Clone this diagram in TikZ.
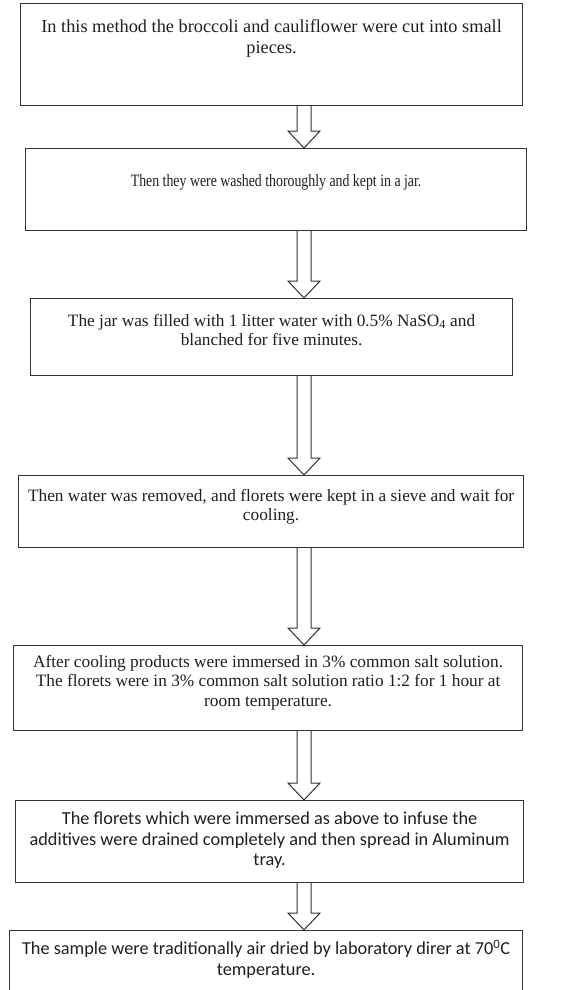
\documentclass[tikz,border=0pt]{standalone}
\usepackage{fontspec}
\usepackage{graphicx}
\setmainfont{Liberation Serif}
\newfontfamily\calfont{Carlito}
\usetikzlibrary{calc}
\newcommand\flowarrow[2]{\draw[barrow] let \p1=(#1.south), \p2=(#2.north) in
  (297pt,\y1) -- (297pt,\y2+17pt) -- (288pt,\y2+17pt) -- (304pt,\y2) --
  (320pt,\y2+17pt) -- (311pt,\y2+17pt) -- (311pt,\y1);}
\begin{document}
\begin{tikzpicture}[x=1pt,y=-1pt,
  box/.style={draw=black!80, line width=1.2pt, anchor=north west, inner sep=0},
  txt/.style={align=center, inner sep=0, anchor=north, text=black!88,
    font=\fontsize{17.3}{19.5}\selectfont},
  ctxt/.style={align=center, inner sep=0, anchor=north, text=black!88,
    font=\calfont\fontsize{18.3}{20.5}\selectfont},
  barrow/.style={draw=black!80, line width=1pt, fill=white, line join=miter}]
\useasboundingbox (0,0) rectangle (587,990);

\node[box, minimum width=502pt, minimum height=102pt] (b1) at (20,3) {};
\node[box, minimum width=501pt, minimum height=82pt] (b2) at (25,148) {};
\node[box, minimum width=482pt, minimum height=77pt] (b3) at (30,298) {};
\node[box, minimum width=505pt, minimum height=72pt] (b4) at (18,475) {};
\node[box, minimum width=509pt, minimum height=85pt] (b5) at (13,645) {};
\node[box, minimum width=508pt, minimum height=82pt] (b6) at (15,800) {};
\node[box, minimum width=513pt, minimum height=66pt] (b7) at (9,930) {};

\node[txt, font=\fontsize{18.3}{21}\selectfont] (t1) at (b1.north |- 0,19) {In this method the broccoli and cauliflower were cut into small\\pieces.};
\node[txt] (t2) at (b2.north |- 0,174) {\scalebox{0.8}[1]{Then they were washed thoroughly and kept in a jar.}};
\node[txt] (t3) at (b3.north |- 0,314) {The jar was filled with 1 litter water with 0.5\% NaSO\textsubscript{4} and\\blanched for five minutes.};
\node[txt] (t4) at (b4.north |- 0,489) {Then water was removed, and florets were kept in a sieve and wait for\\cooling.};
\node[txt] (t5) at (b5.north |- 0,655) {After cooling products were immersed in 3\% common salt solution.\\The florets were in 3\% common salt solution ratio 1:2 for 1 hour at\\room temperature.};
\node[ctxt] (t6) at (b6.north |- 0,812) {The florets which were immersed as above to infuse the\\additives were drained completely and then spread in Aluminum\\tray.};
\node[ctxt] (t7) at (b7.north |- 0,940) {The sample were traditionally air dried by laboratory direr at 70\textsuperscript{0}C\\temperature.};

\flowarrow{b1}{b2}
\flowarrow{b2}{b3}
\flowarrow{b3}{b4}
\flowarrow{b4}{b5}
\flowarrow{b5}{b6}
\flowarrow{b6}{b7}
\end{tikzpicture}
\end{document}
